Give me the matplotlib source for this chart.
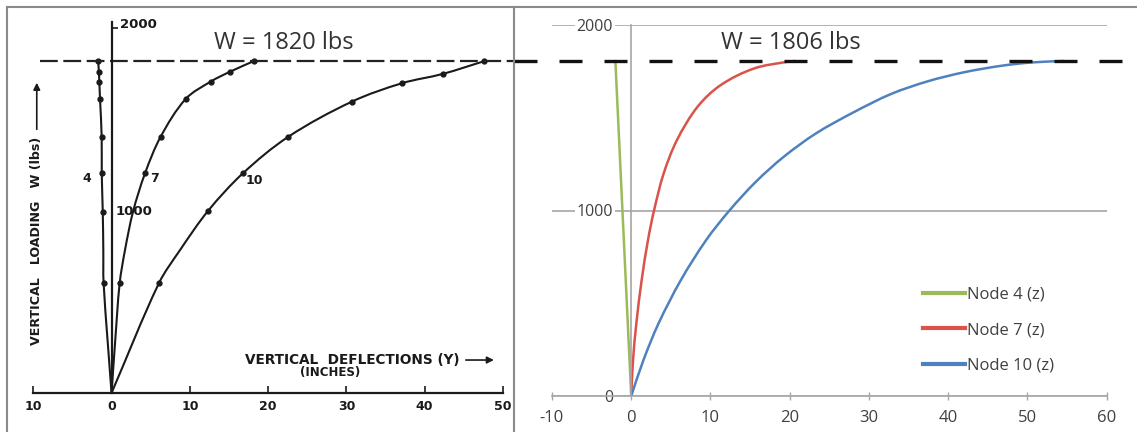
import matplotlib
matplotlib.use("Agg")
import numpy as np
import matplotlib.pyplot as plt
from matplotlib.lines import Line2D
from matplotlib.path import Path
from matplotlib.patches import PathPatch

plt.rcParams["axes.unicode_minus"] = False

# left panel: original test (scanned chart)
old_ticks = [-10, 0, 10, 20, 30, 40, 50]
old_tick_labels = ["10", "0", "10", "20", "30", "40", "50"]
old_W = 1820

n4_old_x = [0, -1.01, -1.05, -1.12, -1.25, -1.26, -1.47, -1.56, -1.62, -1.70]
n4_old_w = [0, 602, 784, 995, 1205, 1406, 1613, 1708, 1763, 1820]
n7_old_x = [0, 0.45, 1.04, 1.72, 2.75, 4.28, 6.28, 9.48, 12.67, 15.18, 18.15]
n7_old_w = [0, 274, 602, 784, 995, 1205, 1406, 1613, 1708, 1763, 1820]
n10_old_x = [0, 6.05, 8.75, 12.35, 16.78, 22.6, 30.7, 37.1, 42.3, 47.6]
n10_old_w = [0, 602, 784, 1000, 1205, 1406, 1598, 1699, 1750, 1820]

# right panel: model results
new_xticks = [-10, 0, 10, 20, 30, 40, 50, 60]
new_yticks = [0, 1000, 2000]
new_W = 1806
node4_x = [0, -2.0]
node4_w = [0, 1806]
node7_x = [0, 0.23, 0.65, 1.32, 2.12, 2.88, 4.10, 5.78, 8.39, 11.33, 15.53, 19.74, 20.7]
node7_w = [0, 194, 392, 625, 841, 1000, 1200, 1380, 1560, 1677, 1766, 1802, 1806]
node10_x = [0, 1.55, 3.46, 6.27, 9.47, 12.4, 15.74, 19.27, 23.34, 28.1, 32.8, 37.4, 42.0, 46.7, 50.5, 54.6]
node10_w = [0, 194, 392, 625, 841, 1000, 1155, 1290, 1416, 1530, 1628, 1696, 1745, 1780, 1798, 1806]


def smooth_line(ax, xs, ys, **kw):
    # smoothed line through the points, tangents worked out on screen
    P = ax.transData.transform(np.column_stack([xs, ys]))
    n = len(P)
    T = np.zeros_like(P)
    for i in range(n):
        d = P[min(i + 1, n - 1)] - P[max(i - 1, 0)]
        T[i] = d / np.hypot(*d)
    verts = [P[0]]
    codes = [Path.MOVETO]
    for i in range(n - 1):
        L = np.hypot(*(P[i + 1] - P[i]))
        verts += [P[i] + T[i] * L / 3, P[i + 1] - T[i + 1] * L / 3, P[i + 1]]
        codes += [Path.CURVE4] * 3
    verts = ax.transData.inverted().transform(np.array(verts))
    ax.add_patch(PathPatch(Path(verts, codes), fill=False, capstyle="round",
                           joinstyle="round", **kw))


W, H = 1137, 432
fig = plt.figure(figsize=(W / 100, H / 100), dpi=100)

# frame of the picture
fr = dict(color="#8a8a8a", lw=1.5)
fig.add_artist(Line2D([7 / W, 1], [1 - 7 / H, 1 - 7 / H], **fr))
fig.add_artist(Line2D([7 / W, 7 / W], [0, 1 - 7 / H], **fr))
fig.add_artist(Line2D([514 / W, 514 / W], [0, 1 - 7 / H], **fr))

ink = "#1a1a1a"
bold = dict(fontweight="bold", color=ink, family="DejaVu Sans")

# ---------------- left ----------------
axL = fig.add_axes([21.5 / W, (H - 429.5) / H, 493.2 / W, 428.5 / H])
axL.set_facecolor("none")
axL.set_xlim(-11.5, 51.5)
axL.set_ylim(-200, 2150)
for s in ["top", "right"]:
    axL.spines[s].set_visible(False)
axL.spines["bottom"].set_position(("data", 0))
axL.spines["bottom"].set_bounds(-10, 50)
axL.spines["left"].set_position(("data", 0))
axL.spines["left"].set_bounds(0, 2035)
for s in ["bottom", "left"]:
    axL.spines[s].set_color(ink)
    axL.spines[s].set_linewidth(1.6)
axL.set_xticks(old_ticks)
axL.set_xticklabels(old_tick_labels, **bold)
axL.tick_params(axis="x", direction="in", length=5, width=1.2, color=ink,
                labelsize=9, pad=5)
axL.set_yticks([2000])
axL.set_yticklabels([])
axL.tick_params(axis="y", direction="in", length=4, width=1.2, color=ink)

old_marks = [[1, 3, 4, 5, 6, 7, 8, 9], [2, 5, 6, 7, 8, 9, 10], [1, 3, 4, 5, 6, 7, 8, 9]]
for (xs, ws), mk in zip([(n4_old_x, n4_old_w), (n7_old_x, n7_old_w),
                         (n10_old_x, n10_old_w)], old_marks):
    smooth_line(axL, xs, ws, edgecolor=ink, lw=1.5)
    axL.plot(xs, ws, ls="none", color=ink, marker="o", ms=3.5, markevery=mk)

axL.axhline(old_W, xmin=0.0375, xmax=1, color="#222222", lw=1.6, dashes=(8, 2.5))
axL.text(22.0, 1920, "W = 1820 lbs", ha="center", va="center", fontsize=17,
         family="Open Sans", color="#333333")

axL.text(1.1, 2019, "2000", ha="left", va="center", fontsize=9.5, **bold)
axL.text(0.57, 993, "1000", ha="left", va="center", fontsize=9.5, **bold)
axL.text(-3.13, 1174, "4", ha="center", va="center", fontsize=9, **bold)
axL.text(5.43, 1174, "7", ha="center", va="center", fontsize=9, **bold)
axL.text(18.2, 1168, "10", ha="center", va="center", fontsize=9, **bold)

axL.text(-9.55, 835, "VERTICAL   LOADING   W (lbs)", rotation=90, ha="center",
         va="center", fontsize=9.1, **bold)
axL.annotate("", xy=(-9.55, 1717), xytext=(-9.55, 1431),
             arrowprops=dict(arrowstyle="-|>", color=ink, lw=1.2, mutation_scale=10))
axL.text(17.05, 181, "VERTICAL  DEFLECTIONS (Y)", ha="left", va="center",
         fontsize=9.8, **bold)
axL.annotate("", xy=(49.2, 181), xytext=(44.9, 181),
             arrowprops=dict(arrowstyle="-|>", color=ink, lw=1.2, mutation_scale=10))
axL.text(27.9, 110, "(INCHES)", ha="center", va="center", fontsize=8.5, **bold)

# ---------------- right ----------------
grey = "#a6a6a6"
txt = "#404040"
axR = fig.add_axes([552 / W, (H - 396) / H, 554.5 / W, 371 / H])
axR.set_facecolor("none")
axR.set_xlim(-10, 60)
axR.set_ylim(0, 2000)
for s in ["top", "right"]:
    axR.spines[s].set_visible(False)
axR.spines["left"].set_position(("data", 0))
for s in ["bottom", "left"]:
    axR.spines[s].set_color(grey)
    axR.spines[s].set_linewidth(1.2)
axR.set_axisbelow(True)
axR.yaxis.grid(True, color=grey, lw=1.2)
axR.set_xticks(new_xticks)
axR.set_yticks(new_yticks)
axR.tick_params(axis="x", direction="inout", length=6, width=1.0, color=grey,
                labelsize=12, labelcolor=txt, pad=7)
axR.tick_params(axis="y", length=0, labelsize=11.5, labelcolor=txt, pad=13)
for lbl in axR.get_xticklabels() + axR.get_yticklabels():
    lbl.set_family("Open Sans")
for lbl in axR.get_yticklabels():
    lbl.set_bbox(dict(facecolor="white", edgecolor="none", pad=1))

series = [(node4_x, node4_w, "#9bbb59", "Node 4 (z)"),
          (node7_x, node7_w, "#d9534a", "Node 7 (z)"),
          (node10_x, node10_w, "#4f81bd", "Node 10 (z)")]
for xs, ws, c, name in series:
    smooth_line(axR, xs, ws, edgecolor=c, lw=1.8)
    axR.plot([], [], color=c, lw=3, label=name)

axR.axhline(new_W, xmin=(514 - 552) / 554.5, xmax=(1137 - 552) / 554.5,
            color="#111111", lw=2.4, dashes=(6.9, 6.6), clip_on=False)
axR.text(20.1, 1903, "W = 1806 lbs", ha="center", va="center", fontsize=17,
         family="Open Sans", color="#333333")

leg = axR.legend(loc="upper left", bbox_to_anchor=(0.669, 0.295), frameon=False,
                 borderpad=0, borderaxespad=0, handlelength=2.52,
                 handletextpad=0.12, labelspacing=1.17,
                 prop=dict(family="Open Sans", size=12))
for t in leg.get_texts():
    t.set_color(txt)

fig.savefig("out.png", dpi=100)
